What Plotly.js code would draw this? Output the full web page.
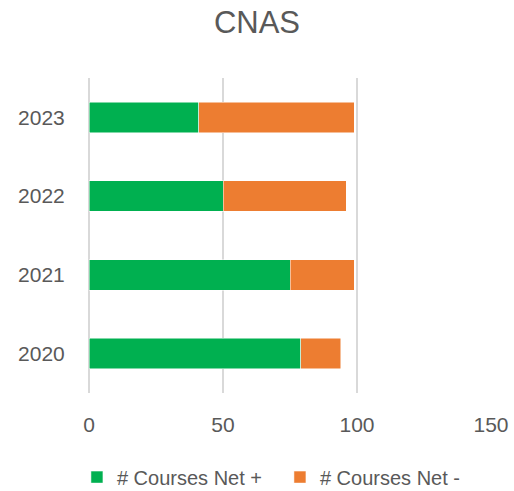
<!DOCTYPE html>
<html>
<head>
<script src="https://cdn.plot.ly/plotly-3.0.1.min.js"></script>
<style>html,body{margin:0;padding:0;background:#fff;}#chart{width:514px;height:491px;}</style>
</head>
<body>
<div id="chart"></div>
<script>
var years = ["2020", "2021", "2022", "2023"];
var netPlus = [79, 75, 50, 41];
var netMinus = [15, 24, 46, 58];
var seriesNames = ["# Courses Net +", "# Courses Net -"];
var xTicks = [0, 50, 100, 150];

var font = "Liberation Sans, Arial, sans-serif";
var data = [
  {type: "bar", orientation: "h", y: years, x: netPlus, name: seriesNames[0],
   marker: {color: "#00B050", line: {color: "#ffffff", width: 0.5}}, hoverinfo: "x+name"},
  {type: "bar", orientation: "h", y: years, x: netMinus, name: seriesNames[1],
   marker: {color: "#ED7D31", line: {color: "#ffffff", width: 0.5}}, hoverinfo: "x+name"}
];
var layout = {
  width: 514, height: 491,
  margin: {l: 89, r: 23, t: 78, b: 98, autoexpand: false},
  barmode: "stack",
  bargap: 0.61,
  paper_bgcolor: "#ffffff", plot_bgcolor: "#ffffff",
  title: {text: "CNAS", x: 0.5, xanchor: "center", y: 0.955, yanchor: "middle",
          font: {family: font, size: 31, color: "#595959"}},
  xaxis: {range: [0, 150], tickvals: xTicks, ticktext: xTicks.map(String),
          showgrid: true, gridcolor: "#d9d9d9", gridwidth: 1.3,
          zeroline: true, zerolinecolor: "#d9d9d9", zerolinewidth: 1.3,
          showline: false, ticks: "outside", ticklen: 13, tickcolor: "rgba(0,0,0,0)",
          tickfont: {family: font, size: 21, color: "#595959"}},
  yaxis: {type: "category", categoryorder: "array", categoryarray: years,
          showgrid: false, zeroline: false, showline: false, ticks: "outside", ticklen: 19, tickcolor: "rgba(0,0,0,0)",
          tickfont: {family: font, size: 21, color: "#595959"}},
  legend: {orientation: "h", x: -0.03, xanchor: "left", y: -0.267, yanchor: "middle",
           font: {family: font, size: 20, color: "#595959"}, traceorder: "normal", itemwidth: 30,
           entrywidth: 158, entrywidthmode: "pixels"},
  showlegend: true
};
Plotly.newPlot("chart", data, layout, {displayModeBar: false, staticPlot: true});
</script>
</body>
</html>
